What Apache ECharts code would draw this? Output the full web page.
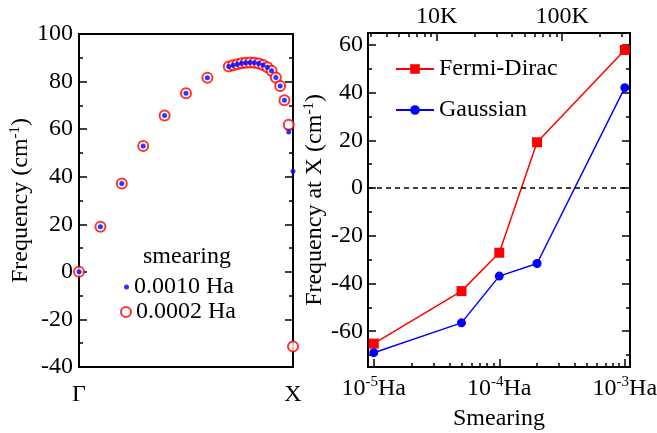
<!DOCTYPE html>
<html>
<head>
<meta charset="utf-8">
<script src="https://cdn.jsdelivr.net/npm/echarts@6/dist/echarts.min.js"></script>
<style>
  html, body { margin: 0; padding: 0; background: #fff; }
  #chart { width: 657px; height: 433px; }
</style>
</head>
<body>
<div id="chart"></div>
<script>
  // left panel: branch along Γ-X, two smearings
  const qPath = [0, 0.1, 0.2, 0.3, 0.4, 0.5, 0.6,
    0.70, 0.72, 0.74, 0.76, 0.78, 0.80, 0.82, 0.84, 0.86, 0.88, 0.90, 0.92, 0.94, 0.96, 0.98, 1.00];
  const freqSmear0010 = [0, 19.0, 37.1, 52.9, 65.7, 75.1, 81.6,
    86.3, 86.9, 87.3, 87.7, 87.9, 88.0, 87.9, 87.6, 87.0, 86.0, 84.5, 81.7, 78.1, 72.1, 58.8, 42.3];
  const freqSmear0002 = [0, 19.0, 37.1, 52.9, 65.7, 75.1, 81.6,
    86.3, 86.9, 87.3, 87.7, 87.9, 88.0, 87.9, 87.6, 87.0, 86.0, 84.5, 81.7, 78.1, 72.1, 61.8, -31.4];
  const pathLabels = ['Γ', 'X'];
  const leftMajor = [-40, -20, 0, 20, 40, 60, 80, 100];
  const leftMinor = [-30, -10, 10, 30, 50, 70, 90];

  // right panel: frequency at X vs smearing
  const smearingHa = [1e-5, 5e-5, 1e-4, 2e-4, 1e-3];
  const fermiDirac = [-65.2, -43.2, -27.1, 19.2, 57.9];
  const gaussian = [-69.0, -56.5, -36.9, -31.6, 42.1];

  const haToKelvin = 315775;
  const smearMajor = [1e-5, 1e-4, 1e-3];
  const smearMinor = [2e-5, 3e-5, 4e-5, 5e-5, 6e-5, 7e-5, 8e-5, 9e-5,
    2e-4, 3e-4, 4e-4, 5e-4, 6e-4, 7e-4, 8e-4, 9e-4];
  const tempMajor = [10, 100];
  const tempMinor = [3, 4, 5, 6, 7, 8, 9, 20, 30, 40, 50, 60, 70, 80, 90, 200, 300];
  const freqMajor = [-60, -40, -20, 0, 20, 40, 60];
  const freqMinor = [-70, -50, -30, -10, 10, 30, 50];

  const FONT = '"Liberation Serif", serif';
  const txt = {fontFamily: FONT, fontSize: 24, color: '#000'};
  const richText = {
    m: {fontFamily: FONT, fontSize: 24, color: '#000'},
    sup: {fontFamily: FONT, fontSize: 15, color: '#000', padding: [0, 0, 12, 0]}
  };
  const tickLine = {color: '#000', width: 1.5};

  let myChart = echarts.init(document.getElementById('chart'));

  function tickAxis(gridIndex, pos, min, max, values, len, type) {
    return {
      gridIndex: gridIndex, type: type || 'value', position: pos, min: min, max: max,
      axisLine: {show: false, onZero: false}, splitLine: {show: false},
      axisTick: {show: true, inside: true, length: len, customValues: values, lineStyle: tickLine},
      axisLabel: {show: false}
    };
  }

  const xMin = 9e-6, xMax = 1.1e-3;

  myChart.setOption({
    animation: false,
    grid: [
      {left: 79, top: 34, width: 214, height: 333, show: true, borderColor: '#000', borderWidth: 2, outerBoundsMode: 'none'},
      {left: 368, top: 33, width: 262, height: 334, show: true, borderColor: '#000', borderWidth: 2, outerBoundsMode: 'none'}
    ],
    graphic: [{
      type: 'text', x: 187, y: 257,
      style: {text: 'smearing', font: '24px "Liberation Serif"', fill: '#000',
        align: 'center', verticalAlign: 'middle', textAlign: 'center', textVerticalAlign: 'middle'}
    }],
    legend: [
      {data: ['0.0010 Ha'], left: 119, top: 270, itemWidth: 5, itemHeight: 5, textStyle: txt},
      {data: ['0.0002 Ha'], left: 115, top: 295, itemWidth: 10, itemHeight: 10, textStyle: txt},
      {data: ['Fermi-Dirac', 'Gaussian'], orient: 'vertical', left: 390, top: 52,
        itemWidth: 38, itemHeight: 12, itemGap: 17, textStyle: txt}
    ],
    xAxis: [
      {
        gridIndex: 0, type: 'value', min: 0, max: 1, interval: 1,
        axisLine: {show: false, onZero: false}, axisTick: {show: false}, splitLine: {show: false},
        axisLabel: Object.assign({margin: 16,
          formatter: function (v) { return v === 0 ? pathLabels[0] : pathLabels[1]; }}, txt)
      },
      {
        gridIndex: 1, type: 'log', position: 'bottom', min: xMin, max: xMax,
        axisLine: {show: false, onZero: false}, splitLine: {show: false},
        axisTick: {show: true, inside: true, length: 8, customValues: smearMajor, lineStyle: tickLine},
        axisLabel: Object.assign({
          customValues: smearMajor, margin: 8,
          formatter: function (v) { return '{m|10}{sup|' + Math.round(Math.log10(v)) + '}{m|Ha}'; },
          rich: richText
        }, txt),
        name: 'Smearing', nameLocation: 'middle', nameGap: 40, nameTextStyle: txt
      },
      tickAxis(1, 'bottom', xMin, xMax, smearMinor, 4, 'log'),
      {
        gridIndex: 1, type: 'log', position: 'top', min: xMin * haToKelvin, max: xMax * haToKelvin,
        axisLine: {show: false, onZero: false}, splitLine: {show: false},
        axisTick: {show: true, inside: true, length: 8, customValues: tempMajor, lineStyle: tickLine},
        axisLabel: Object.assign({customValues: tempMajor, margin: 4, formatter: '{value}K'}, txt)
      },
      tickAxis(1, 'top', xMin * haToKelvin, xMax * haToKelvin, tempMinor, 4, 'log')
    ],
    yAxis: [
      {
        gridIndex: 0, type: 'value', min: -40, max: 100, interval: 20,
        axisLine: {show: false, onZero: false}, splitLine: {show: false},
        axisTick: {show: true, inside: true, length: 8, lineStyle: tickLine},
        axisLabel: Object.assign({margin: 6}, txt),
        name: '{m|Frequency (cm}{sup|-1}{m|)}', nameLocation: 'middle', nameGap: 32,
        nameTextStyle: Object.assign({rich: richText}, txt)
      },
      tickAxis(0, 'left', -40, 100, leftMinor, 4),
      tickAxis(0, 'right', -40, 100, leftMajor, 8),
      tickAxis(0, 'right', -40, 100, leftMinor, 4),
      {
        gridIndex: 1, type: 'value', position: 'left', min: -75, max: 65,
        axisLine: {show: false, onZero: false}, splitLine: {show: false},
        axisTick: {show: true, inside: true, length: 8, customValues: freqMajor, lineStyle: tickLine},
        axisLabel: Object.assign({customValues: freqMajor, margin: 5}, txt),
        name: '{m|Frequency at X (cm}{sup|-1}{m|)}', nameLocation: 'middle', nameGap: 36,
        nameTextStyle: Object.assign({rich: richText}, txt)
      },
      tickAxis(1, 'left', -75, 65, freqMinor, 4),
      tickAxis(1, 'right', -75, 65, freqMajor, 8),
      tickAxis(1, 'right', -75, 65, freqMinor, 4)
    ],
    series: [
      {
        name: '0.0002 Ha', type: 'scatter', xAxisIndex: 0, yAxisIndex: 0,
        symbol: 'emptyCircle', symbolSize: 10,
        itemStyle: {color: '#ff0000', borderColor: '#ff0000', borderWidth: 2},
        data: qPath.map((q, i) => [q, freqSmear0002[i]])
      },
      {
        name: '0.0010 Ha', type: 'scatter', xAxisIndex: 0, yAxisIndex: 0,
        symbol: 'circle', symbolSize: 5,
        itemStyle: {color: '#0000ff'},
        data: qPath.map((q, i) => [q, freqSmear0010[i]])
      },
      {
        name: 'Fermi-Dirac', type: 'line', xAxisIndex: 1, yAxisIndex: 4,
        symbol: 'rect', symbolSize: 10,
        itemStyle: {color: '#ff0000'}, lineStyle: {color: '#ff0000', width: 1.5},
        data: smearingHa.map((s, i) => [s, fermiDirac[i]]),
        markLine: {
          silent: true, symbol: 'none', label: {show: false},
          lineStyle: {color: '#000', type: [5, 4], width: 1.5},
          data: [{yAxis: 0}]
        },
        z: 3
      },
      {
        name: 'Gaussian', type: 'line', xAxisIndex: 1, yAxisIndex: 4,
        symbol: 'circle', symbolSize: 9,
        itemStyle: {color: '#0000ff'}, lineStyle: {color: '#0000ff', width: 1.5},
        data: smearingHa.map((s, i) => [s, gaussian[i]])
      }
    ]
  });
</script>
</body>
</html>
